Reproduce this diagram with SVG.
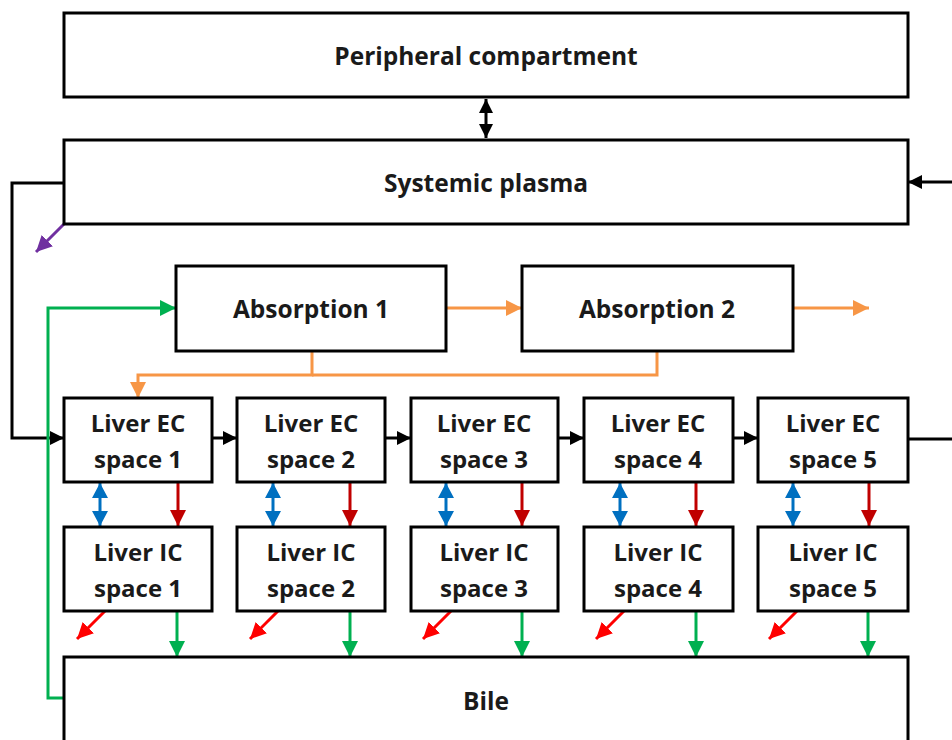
<svg xmlns="http://www.w3.org/2000/svg" width="952" height="740" viewBox="0 0 952 740">
<style>
.box{fill:#fff;stroke:#000;stroke-width:3}
.t{font-family:"Open Sans","Noto Sans",sans-serif;font-weight:bold;font-size:24px;fill:#1a1a1a;text-anchor:middle}
.tb{font-size:24.5px}
.c{fill:none;stroke-width:3}
.k{stroke:#000}.o{stroke:#F79646}.g{stroke:#00B050}.b{stroke:#0070C0}.r{stroke:#C00000}.rr{stroke:#FF0000}.p{stroke:#7030A0}
</style>
<defs>
<marker id="ak" markerUnits="userSpaceOnUse" markerWidth="16" markerHeight="16" refX="14" refY="8" orient="auto"><path d="M0,1 L14,8 L0,15 z" fill="#000"/></marker>
<marker id="aks" markerUnits="userSpaceOnUse" markerWidth="16" markerHeight="16" refX="14" refY="8" orient="auto-start-reverse"><path d="M0,1 L14,8 L0,15 z" fill="#000"/></marker>
<marker id="ao" markerUnits="userSpaceOnUse" markerWidth="18" markerHeight="18" refX="16" refY="9" orient="auto"><path d="M0,1 L16,9 L0,17 z" fill="#F79646"/></marker>
<marker id="ag" markerUnits="userSpaceOnUse" markerWidth="18" markerHeight="18" refX="16" refY="9" orient="auto"><path d="M0,1 L16,9 L0,17 z" fill="#00B050"/></marker>
<marker id="ab" markerUnits="userSpaceOnUse" markerWidth="18" markerHeight="18" refX="15" refY="9" orient="auto-start-reverse"><path d="M0,1 L15,9 L0,17 z" fill="#0070C0"/></marker>
<marker id="ar" markerUnits="userSpaceOnUse" markerWidth="18" markerHeight="18" refX="16" refY="9" orient="auto"><path d="M0,1 L16,9 L0,17 z" fill="#C00000"/></marker>
<marker id="arr" markerUnits="userSpaceOnUse" markerWidth="18" markerHeight="18" refX="16" refY="9" orient="auto"><path d="M0,1 L16,9 L0,17 z" fill="#FF0000"/></marker>
<marker id="ap" markerUnits="userSpaceOnUse" markerWidth="18" markerHeight="18" refX="16" refY="9" orient="auto"><path d="M0,1 L16,9 L0,17 z" fill="#7030A0"/></marker>
</defs>

<g id="connectors">
<line class="c k" x1="486" y1="99" x2="486" y2="138" marker-start="url(#aks)" marker-end="url(#aks)"/>
<polyline class="c k" points="64,183 12,183 12,438 64,438" marker-end="url(#ak)"/>
<line class="c k" x1="952" y1="182" x2="908" y2="182" marker-end="url(#ak)"/>
<line class="c k" x1="908" y1="439" x2="952" y2="439"/>
<line class="c p" x1="64" y1="224" x2="36" y2="252" marker-end="url(#ap)"/>
<line class="c o" x1="446" y1="308" x2="522" y2="308" marker-end="url(#ao)"/>
<line class="c o" x1="793" y1="308" x2="869" y2="308" marker-end="url(#ao)"/>
<polyline class="c o" points="312,351 312,375 138,375 138,398" marker-end="url(#ao)"/>
<polyline class="c o" points="657,351 657,375 312,375"/>
<polyline class="c g" points="64,698 48,698 48,308 176,308" marker-end="url(#ag)"/>
<line class="c k" x1="212" y1="438" x2="237" y2="438" marker-end="url(#ak)"/>
<line class="c k" x1="385" y1="438" x2="411" y2="438" marker-end="url(#ak)"/>
<line class="c k" x1="558" y1="438" x2="584" y2="438" marker-end="url(#ak)"/>
<line class="c k" x1="733" y1="438" x2="758" y2="438" marker-end="url(#ak)"/>

<line class="c b" x1="100" y1="483" x2="100" y2="526" marker-start="url(#ab)" marker-end="url(#ab)"/>
<line class="c b" x1="273" y1="483" x2="273" y2="526" marker-start="url(#ab)" marker-end="url(#ab)"/>
<line class="c b" x1="446" y1="483" x2="446" y2="526" marker-start="url(#ab)" marker-end="url(#ab)"/>
<line class="c b" x1="620" y1="483" x2="620" y2="526" marker-start="url(#ab)" marker-end="url(#ab)"/>
<line class="c b" x1="793" y1="483" x2="793" y2="526" marker-start="url(#ab)" marker-end="url(#ab)"/>

<line class="c r" x1="178" y1="483" x2="178" y2="526" marker-end="url(#ar)"/>
<line class="c r" x1="350" y1="483" x2="350" y2="526" marker-end="url(#ar)"/>
<line class="c r" x1="522" y1="483" x2="522" y2="526" marker-end="url(#ar)"/>
<line class="c r" x1="696" y1="483" x2="696" y2="526" marker-end="url(#ar)"/>
<line class="c r" x1="869" y1="483" x2="869" y2="526" marker-end="url(#ar)"/>

<line class="c rr" x1="105" y1="611" x2="77" y2="639" marker-end="url(#arr)"/>
<line class="c rr" x1="278" y1="611" x2="250" y2="639" marker-end="url(#arr)"/>
<line class="c rr" x1="451" y1="611" x2="423" y2="639" marker-end="url(#arr)"/>
<line class="c rr" x1="624" y1="611" x2="596" y2="639" marker-end="url(#arr)"/>
<line class="c rr" x1="797" y1="611" x2="769" y2="639" marker-end="url(#arr)"/>

<line class="c g" x1="177" y1="611" x2="177" y2="657" marker-end="url(#ag)"/>
<line class="c g" x1="350" y1="611" x2="350" y2="657" marker-end="url(#ag)"/>
<line class="c g" x1="522" y1="611" x2="522" y2="657" marker-end="url(#ag)"/>
<line class="c g" x1="696" y1="611" x2="696" y2="657" marker-end="url(#ag)"/>
<line class="c g" x1="868" y1="611" x2="868" y2="657" marker-end="url(#ag)"/>
</g>

<g id="peripheral"><rect class="box" x="64" y="13" width="844" height="84"/><text class="t tb" x="486" y="65">Peripheral compartment</text></g>
<g id="plasma"><rect class="box" x="64" y="140" width="844" height="84"/><text class="t tb" x="486" y="192">Systemic plasma</text></g>
<g id="abs1"><rect class="box" x="176" y="266" width="270" height="85"/><text class="t tb" x="311" y="318">Absorption 1</text></g>
<g id="abs2"><rect class="box" x="522" y="266" width="271" height="85"/><text class="t tb" x="657" y="318">Absorption 2</text></g>

<g id="ec1"><rect class="box" x="64" y="398" width="148" height="84"/><text class="t" x="138" y="432">Liver EC</text><text class="t" x="138" y="468">space 1</text></g>
<g id="ec2"><rect class="box" x="237" y="398" width="148" height="84"/><text class="t" x="311" y="432">Liver EC</text><text class="t" x="311" y="468">space 2</text></g>
<g id="ec3"><rect class="box" x="411" y="398" width="147" height="84"/><text class="t" x="484" y="432">Liver EC</text><text class="t" x="484" y="468">space 3</text></g>
<g id="ec4"><rect class="box" x="584" y="398" width="149" height="84"/><text class="t" x="658" y="432">Liver EC</text><text class="t" x="658" y="468">space 4</text></g>
<g id="ec5"><rect class="box" x="758" y="398" width="150" height="84"/><text class="t" x="833" y="432">Liver EC</text><text class="t" x="833" y="468">space 5</text></g>

<g id="ic1"><rect class="box" x="64" y="527" width="148" height="84"/><text class="t" x="138" y="561">Liver IC</text><text class="t" x="138" y="597">space 1</text></g>
<g id="ic2"><rect class="box" x="237" y="527" width="148" height="84"/><text class="t" x="311" y="561">Liver IC</text><text class="t" x="311" y="597">space 2</text></g>
<g id="ic3"><rect class="box" x="411" y="527" width="147" height="84"/><text class="t" x="484" y="561">Liver IC</text><text class="t" x="484" y="597">space 3</text></g>
<g id="ic4"><rect class="box" x="584" y="527" width="149" height="84"/><text class="t" x="658" y="561">Liver IC</text><text class="t" x="658" y="597">space 4</text></g>
<g id="ic5"><rect class="box" x="758" y="527" width="150" height="84"/><text class="t" x="833" y="561">Liver IC</text><text class="t" x="833" y="597">space 5</text></g>

<g id="bile"><rect class="box" x="64" y="657" width="844" height="100"/><text class="t tb" x="486" y="710">Bile</text></g>
</svg>
